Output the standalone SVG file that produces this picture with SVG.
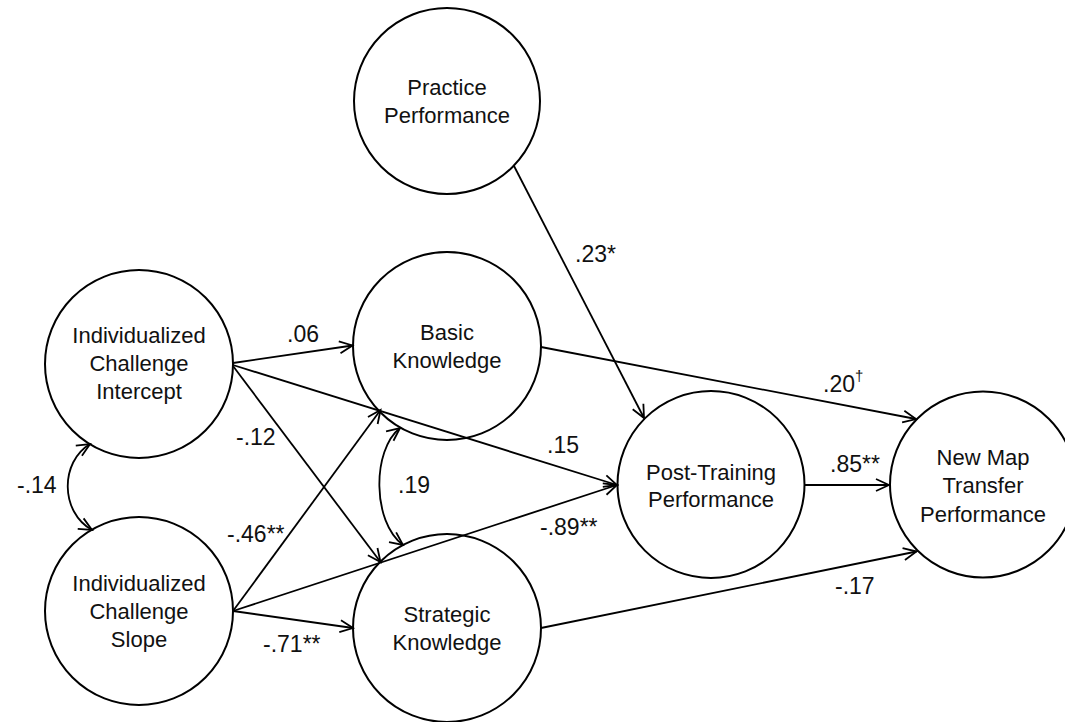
<svg xmlns="http://www.w3.org/2000/svg" width="1065" height="722" viewBox="0 0 1065 722">
  <style>
    .node circle { fill: #fff; stroke: #000; stroke-width: 2; }
    .node text { font-family: "Liberation Sans", Arial, sans-serif; font-size: 22px; fill: #111; text-anchor: middle; }
    .edge { fill: none; stroke: #000; stroke-width: 1.8; marker-end: url(#head); }
    .cov { fill: none; stroke: #000; stroke-width: 1.8; marker-start: url(#head); marker-end: url(#head); }
    .lbl { font-family: "Liberation Sans", Arial, sans-serif; font-size: 23px; fill: #111; }
  </style>
  <defs>
    <marker id="head" viewBox="-16 -8 18 16" refX="0" refY="0" markerWidth="18" markerHeight="16" markerUnits="userSpaceOnUse" orient="auto-start-reverse">
      <path d="M-13,-6 L0,0 L-13,6" fill="none" stroke="#000" stroke-width="1.8"/>
    </marker>
  </defs>
  <rect width="1065" height="722" fill="#fff"/>

  <!-- nodes -->
  <g id="practice" class="node">
    <circle cx="447" cy="101" r="93"/>
    <text x="447" y="95">Practice</text>
    <text x="447" y="123">Performance</text>
  </g>
  <g id="intercept" class="node">
    <circle cx="139" cy="364" r="94"/>
    <text x="139" y="343">Individualized</text>
    <text x="139" y="371">Challenge</text>
    <text x="139" y="399">Intercept</text>
  </g>
  <g id="slope" class="node">
    <circle cx="139" cy="611" r="94"/>
    <text x="139" y="591">Individualized</text>
    <text x="139" y="619">Challenge</text>
    <text x="139" y="647">Slope</text>
  </g>
  <g id="basic" class="node">
    <circle cx="447" cy="346" r="94"/>
    <text x="447" y="340">Basic</text>
    <text x="447" y="368">Knowledge</text>
  </g>
  <g id="strategic" class="node">
    <circle cx="447" cy="628" r="94"/>
    <text x="447" y="622">Strategic</text>
    <text x="447" y="650">Knowledge</text>
  </g>
  <g id="posttraining" class="node">
    <circle cx="711" cy="484.5" r="93.5"/>
    <text x="711" y="480">Post-Training</text>
    <text x="711" y="507">Performance</text>
  </g>
  <g id="newmap" class="node">
    <circle cx="983" cy="484.5" r="93"/>
    <text x="983" y="465">New Map</text>
    <text x="983" y="493">Transfer</text>
    <text x="983" y="522">Performance</text>
  </g>

  <!-- paths and covariances -->
  <g id="connectors">
    <path class="edge" d="M233,363 L352.5,345.5"/>
    <path class="edge" d="M233,365 L617,485"/>
    <path class="edge" d="M233,366 L380.5,562"/>
    <path class="edge" d="M233,611 L380.5,410"/>
    <path class="edge" d="M233,611 L617,485"/>
    <path class="edge" d="M233,611 L353,628"/>
    <path class="edge" d="M541,347 L916,419"/>
    <path class="edge" d="M514,166 L644,418"/>
    <path class="edge" d="M805,485 L889,485"/>
    <path class="edge" d="M541,628 L916.5,551.5"/>
    <path class="cov" d="M90,444 C60,462 60,512 92,530"/>
    <path class="cov" d="M400,428 C372,450 372,522 403,545"/>
  </g>

  <!-- coefficients -->
  <g id="labels" class="lbl">
    <text x="287" y="342">.06</text>
    <text x="575" y="262">.23*</text>
    <text x="236" y="445">-.12</text>
    <text x="547" y="453">.15</text>
    <text x="398" y="493">.19</text>
    <text x="227" y="542">-.46**</text>
    <text x="540" y="535">-.89**</text>
    <text x="263" y="652">-.71**</text>
    <text x="17" y="493">-.14</text>
    <text x="823" y="392">.20<tspan font-size="15" dy="-11">†</tspan></text>
    <text x="830" y="472">.85**</text>
    <text x="835" y="594">-.17</text>
  </g>
</svg>
